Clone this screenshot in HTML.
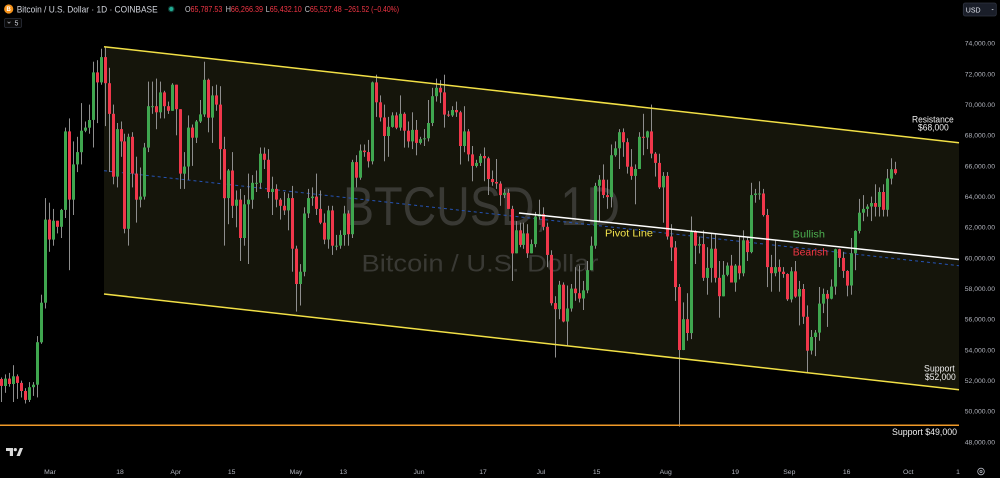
<!DOCTYPE html>
<html><head><meta charset="utf-8">
<style>
html,body{margin:0;padding:0;background:#000;width:1000px;height:478px;overflow:hidden}
svg{display:block}
text{font-family:"Liberation Sans",sans-serif}
</style></head>
<body>
<svg width="1000" height="478" viewBox="0 0 1000 478">
<rect x="0" y="0" width="1000" height="478" fill="#000"/>
<!-- channel fill -->
<polygon points="104,46.7 959,142.7 959,389.7 104,294" fill="#15150b"/>
<!-- watermark -->
<text x="343" y="225" font-size="55" fill="#393934" textLength="277" lengthAdjust="spacingAndGlyphs">BTCUSD, 1D</text>
<text x="361.5" y="271.5" font-size="24" fill="#393934" textLength="237" lengthAdjust="spacingAndGlyphs">Bitcoin / U.S. Dollar</text>
<!-- blue dashed line -->
<line x1="104" y1="170.7" x2="959" y2="265.7" stroke="#2553b5" stroke-width="1" stroke-dasharray="3 3"/>
<!-- candles -->
<g id="candles"></g>
<!-- channel lines -->
<line x1="104" y1="46.7" x2="959" y2="142.7" stroke="#f2e046" stroke-width="1.5"/>
<line x1="104" y1="294" x2="959" y2="389.7" stroke="#f2e046" stroke-width="1.5"/>
<!-- pivot -->
<line x1="519" y1="213" x2="959" y2="259.5" stroke="#ffffff" stroke-width="1.5"/>
<!-- support 49k -->
<line x1="0" y1="425.3" x2="959" y2="425.3" stroke="#f09a28" stroke-width="1.5"/>

<!-- annotations -->
<text x="605" y="236.7" font-size="10" fill="#f2e34c" textLength="48" lengthAdjust="spacingAndGlyphs">Pivot Line</text>
<text x="792.7" y="237.3" font-size="10.5" fill="#4caf50" textLength="32.3" lengthAdjust="spacingAndGlyphs">Bullish</text>
<text x="792.7" y="255.3" font-size="10.5" fill="#f23645" textLength="35.3" lengthAdjust="spacingAndGlyphs">Bearish</text>
<text x="912" y="122.7" font-size="9.5" fill="#f0f0f0" textLength="41.7" lengthAdjust="spacingAndGlyphs">Resistance</text>
<text x="918" y="130.3" font-size="9.5" fill="#f0f0f0" textLength="30.7" lengthAdjust="spacingAndGlyphs">$68,000</text>
<text x="924" y="371.5" font-size="9.5" fill="#f0f0f0" textLength="30.7" lengthAdjust="spacingAndGlyphs">Support</text>
<text x="925" y="380.2" font-size="9.5" fill="#f0f0f0" textLength="30.7" lengthAdjust="spacingAndGlyphs">$52,000</text>
<text x="892" y="435" font-size="9.5" fill="#f0f0f0" textLength="65" lengthAdjust="spacingAndGlyphs">Support $49,000</text>

<!-- price axis -->
<g font-size="6.8" fill="#b2b5be" text-anchor="end">
<text x="995" y="45.7">74,000.00</text>
<text x="995" y="76.4">72,000.00</text>
<text x="995" y="107">70,000.00</text>
<text x="995" y="137.7">68,000.00</text>
<text x="995" y="168.3">66,000.00</text>
<text x="995" y="199">64,000.00</text>
<text x="995" y="229.7">62,000.00</text>
<text x="995" y="260.3">60,000.00</text>
<text x="995" y="291">58,000.00</text>
<text x="995" y="321.6">56,000.00</text>
<text x="995" y="352.3">54,000.00</text>
<text x="995" y="383">52,000.00</text>
<text x="995" y="413.6">50,000.00</text>
<text x="995" y="444.3">48,000.00</text>
</g>

<!-- time axis -->
<g font-size="6.8" fill="#b2b5be" text-anchor="middle">
<text x="50" y="474">Mar</text>
<text x="120" y="474">18</text>
<text x="175.7" y="474">Apr</text>
<text x="231.7" y="474">15</text>
<text x="296" y="474">May</text>
<text x="343.3" y="474">13</text>
<text x="419" y="474">Jun</text>
<text x="483" y="474">17</text>
<text x="541" y="474">Jul</text>
<text x="596.7" y="474">15</text>
<text x="665.7" y="474">Aug</text>
<text x="735.3" y="474">19</text>
<text x="789.3" y="474">Sep</text>
<text x="846.7" y="474">16</text>
<text x="908.3" y="474">Oct</text>
<text x="958" y="474">1</text>
</g>
<circle cx="981" cy="471.5" r="3.3" fill="none" stroke="#b2b5be" stroke-width="0.8"/>
<circle cx="981" cy="471.5" r="1.1" fill="none" stroke="#b2b5be" stroke-width="0.8"/>

<!-- TV logo -->
<path d="M6 448 h7 v8 h-3.2 v-5 h-3.8 z" fill="#d9d9d9"/>
<circle cx="15.3" cy="449.6" r="1.6" fill="#d9d9d9"/>
<polygon points="16.5,456 19.8,448 23,448 19.8,456" fill="#d9d9d9"/>

<!-- header -->
<circle cx="8.7" cy="9" r="4.6" fill="#f7931a"/>
<text x="8.7" y="11.2" font-size="6" font-weight="bold" fill="#fff" text-anchor="middle">B</text>
<text x="16.7" y="12.3" font-size="9.2" fill="#d1d4dc" textLength="141" lengthAdjust="spacingAndGlyphs">Bitcoin / U.S. Dollar · 1D · COINBASE</text>
<circle cx="171.3" cy="9" r="3.3" fill="#0d3b33"/>
<circle cx="171.3" cy="9" r="2.1" fill="#22ab94"/>
<g font-size="8">
<text x="185" y="11.8" textLength="37.3" lengthAdjust="spacingAndGlyphs"><tspan fill="#c8cad0">O</tspan><tspan fill="#f23645">65,787.53</tspan></text>
<text x="225.7" y="11.8" textLength="37.3" lengthAdjust="spacingAndGlyphs"><tspan fill="#c8cad0">H</tspan><tspan fill="#f23645">66,266.39</tspan></text>
<text x="265.7" y="11.8" textLength="36" lengthAdjust="spacingAndGlyphs"><tspan fill="#c8cad0">L</tspan><tspan fill="#f23645">65,432.10</tspan></text>
<text x="304.7" y="11.8" textLength="37" lengthAdjust="spacingAndGlyphs"><tspan fill="#c8cad0">C</tspan><tspan fill="#f23645">65,527.48</tspan></text>
<text x="344.3" y="11.8" fill="#f23645" textLength="54.7" lengthAdjust="spacingAndGlyphs">−261.52 (−0.40%)</text>
</g>
<rect x="4.5" y="18.5" width="17" height="9" rx="1.5" fill="#0a0a0a" stroke="#2a2e39" stroke-width="0.8"/>
<path d="M7.6 21.8 l1.4 1.4 l1.4 -1.4" fill="none" stroke="#b2b5be" stroke-width="0.7"/>
<text x="14.5" y="25.6" font-size="7" fill="#d1d4dc">5</text>

<!-- USD button -->
<rect x="963.3" y="3" width="33" height="13" rx="2" fill="#1a1e29" stroke="#2f3441" stroke-width="0.8"/>
<text x="965.8" y="12.3" font-size="7" fill="#e0e3eb">USD</text>
<path d="M991.3 9 l1.3 1.3 l1.3 -1.3 z" fill="#b2b5be"/>
</svg>
<script>
(function(){
var raw=[
[51.65,52.2,50.6],[52.13,52.4,51.2],[51.78,52.5,51.6],[52.28,53.0,50.6],[51.85,52.4,50.8],[51.32,52.0,50.9],[50.74,51.5,50.5],[51.57,51.9,50.6],[51.73,51.9,51.0],[54.5,54.9,50.9],[57.08,57.6,54.4],[62.5,63.9,56.7],[61.2,63.6,60.4],
[62.43,63.2,60.8],[62.03,62.4,61.6],[63.13,63.2,61.3],[68.25,68.5,62.6],[63.8,69.1,59.2],[66.1,67.6,62.8],[66.9,67.9,65.6],[68.3,70.1,66.1],[68.5,68.9,68.2],[69.0,70.0,68.1],[72.1,72.8,67.2],[71.45,72.9,68.8],[73.1,73.65,71.3],[71.4,73.78,68.6],[69.4,72.4,65.6],[65.3,70.0,64.8],[68.4,68.8,64.6],[67.6,68.9,66.6],[61.9,68.1,61.6],[67.9,68.1,60.8],[65.5,68.2,64.6],[63.8,66.6,62.3],[64.0,65.9,63.3],[67.2,67.5,63.8],[69.9,71.5,66.9],[69.9,71.5,69.4],[69.5,71.7,68.4],[70.8,71.5,69.1],[69.9,70.9,69.1],[69.6,70.2,69.4],[71.3,71.4,69.6],
[69.7,71.3,68.0],[65.5,69.7,64.5],[65.96,66.9,64.5],[68.5,69.3,65.1],[67.84,68.7,66.0],[68.9,69.0,67.5],[69.36,70.3,68.8],[71.62,72.8,69.2],[69.15,71.7,68.2],[70.6,71.2,67.5],[70.0,71.3,69.6],[67.1,71.2,65.1],[63.9,67.9,60.8],[65.7,65.8,62.2],[63.4,66.9,62.6],[63.8,64.4,62.0],[61.3,64.5,59.8],[63.5,64.1,60.8],[63.8,65.5,59.6],[64.9,65.4,63.2],[64.9,65.7,64.3],[66.8,67.2,64.5],[66.4,67.2,65.8],[64.3,67.1,63.9],[64.5,65.3,62.8],[63.8,64.8,63.3],[63.4,63.9,62.5],[63.1,64.3,62.8],[63.9,64.2,61.8],[60.6,64.7,59.1],
[58.3,60.8,56.5],[59.1,59.6,56.9],[62.9,63.3,58.8],[63.9,64.5,62.6],[64.0,64.6,63.4],[63.2,65.5,62.8],[62.3,64.4,62.2],[61.2,62.9,60.9],[63.1,63.4,60.6],[60.8,63.4,60.2],[60.8,61.5,60.5],[61.5,61.8,60.6],[62.9,63.4,60.8],[61.55,63.1,60.8],[66.25,66.4,61.3],[65.23,66.7,64.6],[67.0,67.4,65.1],[66.9,67.4,66.6],[66.3,67.7,65.9],[71.45,71.5,66.1],[70.15,71.95,69.2],[69.16,70.6,68.9],[67.95,70.0,66.3],[68.55,69.2,66.6],[69.3,69.5,68.5],[68.5,69.5,68.4],[69.4,70.6,68.3],[68.3,69.5,67.2],[67.6,68.9,67.2],[68.35,69.5,67.1],[67.5,69.0,66.7],
[67.75,67.9,67.4],[67.8,68.4,67.3],[68.8,70.3,67.6],[70.55,71.1,68.6],[71.1,71.7,70.2],[70.8,71.6,70.1],[69.35,71.95,68.5],[69.3,69.6,69.2],[69.65,69.9,69.2],[69.5,70.2,69.2],[67.3,69.6,66.1],[68.25,69.9,66.9],[66.75,68.4,66.3],[66.0,67.3,65.0],[66.2,66.4,65.9],[66.65,66.8,66.0],[66.5,67.2,65.0],[65.15,66.6,64.1],[64.95,65.7,64.7],[64.85,66.45,64.5],[64.1,65.0,63.4],[64.25,64.5,63.9],[63.2,64.5,63.2],[60.3,63.4,58.5],[61.8,62.4,60.3],[60.85,62.3,60.7],[61.6,62.3,60.6],[60.3,62.2,60.0],[60.9,61.2,60.3],[62.7,63.0,60.7],
[62.85,63.8,62.5],[62.03,63.3,61.8],[60.2,62.3,59.4],[57.05,60.5,56.9],[56.65,57.5,53.5],[58.25,58.5,56.0],[55.85,58.4,55.8],[56.7,58.2,54.3],[58.0,58.3,56.5],[57.7,59.4,57.2],[57.35,59.5,57.1],[57.88,58.5,56.6],[59.2,59.8,57.7],[60.8,61.4,59.2],[64.7,64.9,60.6],[65.1,65.4,62.4],[64.1,66.1,63.9],[63.97,65.1,63.2],[66.7,67.4,63.3],[67.15,67.6,66.6],[68.2,68.4,65.8],[67.55,68.45,66.6],[65.95,67.8,65.5],[65.35,67.1,65.1],[65.8,66.1,63.5],[67.9,68.2,65.8],[67.85,69.4,66.7],[68.25,68.3,67.1],[66.8,70.0,66.5],[66.2,66.9,65.3],[64.6,66.8,64.5],
[65.35,65.6,62.3],[61.4,65.6,61.2],[60.68,62.2,59.8],[58.1,61.1,57.2],[53.99,58.3,49.0],[56.0,57.1,54.0],[55.1,57.7,54.6],[61.7,62.7,54.7],[60.8,61.8,59.6],[60.9,61.4,60.3],[58.7,61.8,58.5],[59.35,60.7,57.6],[60.6,61.6,58.4],[58.7,61.6,58.4],[57.5,59.8,56.1],[58.9,59.8,57.7],[59.5,59.7,58.8],[58.4,60.2,58.4],[59.5,59.6,57.8],[59.0,61.4,58.6],[61.15,61.8,58.8],[60.38,61.4,59.8],[64.1,64.9,60.3],[64.2,64.5,63.6],[64.2,65.0,63.8],[62.8,64.5,62.7],[59.4,63.2,58.1],[59.0,60.2,57.8],[59.4,61.2,58.8],[59.1,59.9,57.8],[58.95,59.4,58.7],
[57.3,59.0,57.2],[59.13,59.4,57.1],[57.48,59.8,57.4],[57.97,58.5,55.6],[56.16,58.3,55.7],[53.95,56.9,52.55],[54.84,55.3,53.7],[55.13,55.3,53.6],[57.02,58.1,54.6],[57.65,58.0,56.4],[57.34,57.9,55.5],[58.13,58.6,57.3],[60.57,60.6,57.6],[60.0,60.6,59.4],[59.15,60.4,58.7],[58.2,59.2,57.5],[60.3,61.3,57.6],[61.76,61.8,59.2],[62.95,63.85,61.6],[63.2,64.1,62.4],[63.35,63.5,62.7],[63.58,64.0,62.4],[63.33,64.8,62.7],[64.3,64.6,62.7],[63.14,64.8,62.7],[65.18,65.8,62.7],[65.79,66.5,64.8],[65.527,66.27,65.43,65.787]
];
function Y(p){return 43.3+(74-p)*15.33;}
var prev=52.1,s='';
for(var i=0;i<raw.length;i++){
  var r=raw[i],C=r[0],H=r[1],L=r[2],O=(r.length>3)?r[3]:prev;
  H=Math.max(H,O,C);L=Math.min(L,O,C);
  var cx=Math.round(0.8+3.99*i);
  var yh=Y(H),yl=Y(L),yo=Y(O),yc=Y(C);
  var top=Math.min(yo,yc),h=Math.max(1,Math.abs(yo-yc));
  var col=C>=O?'#3fa64f':'#f0374b';
  s+='<rect x="'+cx+'" y="'+yh.toFixed(1)+'" width="1" height="'+(yl-yh).toFixed(1)+'" fill="#8e8e8e"/>';
  s+='<rect x="'+(cx-1)+'" y="'+top.toFixed(1)+'" width="3" height="'+h.toFixed(1)+'" fill="'+col+'"/>';
  prev=C;
}
document.getElementById('candles').innerHTML=s;
})();
</script>
</body></html>
